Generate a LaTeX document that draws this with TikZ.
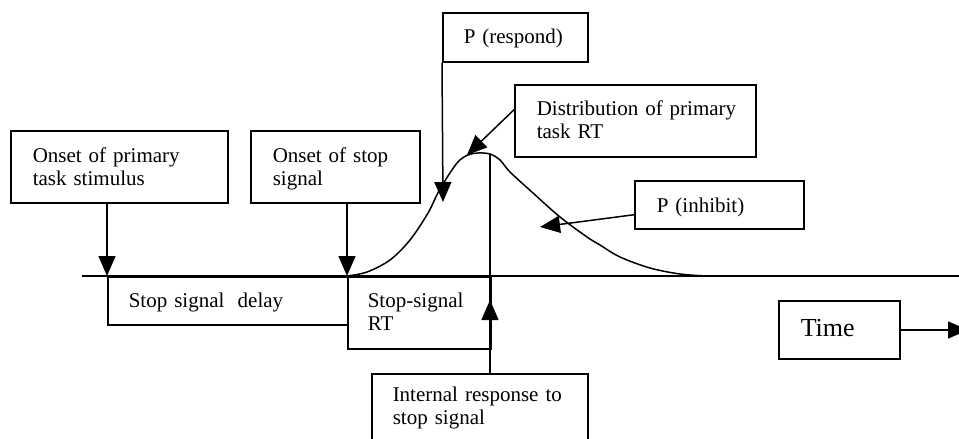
\documentclass[tikz,border=0pt]{standalone}
\usepackage{fontspec}
\setmainfont{Liberation Serif}
\usetikzlibrary{arrows.meta}
\begin{document}
\begin{tikzpicture}[x=1pt,y=-1pt,line width=1.5pt,
  box/.style={draw,anchor=north west,inner sep=0pt},
  lbl/.style={anchor=base west,inner sep=0pt,align=left,text width=300pt,font=\fontsize{21}{23.5}\selectfont},
  arr/.style={-{Triangle[length=20pt,width=17pt]}}]
\useasboundingbox (0,0) rectangle (959,439);
\clip (0,0) rectangle (959,439);
% boxes
\node[box,minimum width=217pt,minimum height=72pt] (b1) at (10,130) {};
\node[box,minimum width=169pt,minimum height=72pt] (b2) at (250,130) {};
\node[box,minimum width=145pt,minimum height=49pt] (pr) at (442,12) {};
\node[box,minimum width=241pt,minimum height=72pt] (ds) at (514,84) {};
\node[box,minimum width=169pt,minimum height=48pt] (pi) at (634,180) {};
\node[box,minimum width=121pt,minimum height=58pt] (tm) at (778,300) {};
\node[box,minimum width=240pt,minimum height=48pt] (dl) at (107,276) {};
\node[box,minimum width=143pt,minimum height=72pt] (rt) at (347,276) {};
\node[box,minimum width=216pt,minimum height=80pt] (ib) at (371,373) {};
% texts
\node[lbl] (tb1) at (32,162) {Onset of primary\\task stimulus};
\node[lbl] (tb2) at (272,162) {Onset of stop\\signal};
\node[lbl] (tpr) at (463,43) {P (respond)};
\node[lbl] (tds) at (536,115) {Distribution of primary\\task RT};
\node[lbl] (tpi) at (656,212) {P (inhibit)};
\node[lbl,font=\fontsize{26}{30}\selectfont] (ttm) at (800,336) {Time};
\node[lbl] (tdl) at (128,307) {Stop signal\hspace{0.3em} delay};
\node[lbl] (trt) at (367,307) {Stop-signal\\RT};
\node[lbl] (tib) at (392,401) {Internal response to\\stop signal};
% axis
\coordinate (axL) at (82,276);
\coordinate (axR) at (959,276);
\draw (axL) -- (axR);
% distribution curve
\draw plot[smooth,tension=0.55] coordinates {(347,276) (367,272) (390,260) (410,240) (428,213) (440,189) (457,163) (468,155) (478,153) (490,154) (500,160) (510,172) (533,193) (560,217) (587,237) (600,245) (620,257) (650,268) (680,274) (707,276)};
% arrows
\coordinate (t1) at (107,276);
\coordinate (t2) at (347,276);
\coordinate (t3) at (443,202);
\coordinate (t4) at (467,155);
\coordinate (t5) at (540,227);
\coordinate (t6) at (968,330);
\coordinate (pk) at (490,154);
\coordinate (t7) at (490,300);
\draw[arr] (b1.south -| t1) -- (t1);
\draw[arr] (b2.south -| t2) -- (t2);
\draw[arr] (pr.south west) -- (t3);
\draw[arr] ([yshift=11pt]ds.west) -- (t4);
\draw[arr] ([yshift=-10pt]pi.west) -- (t5);
\draw[arr] (tm.east |- t6) -- (t6);
\draw (pk) -- (ib.north -| pk);
\draw[arr] (ib.north -| pk) -- (t7);
\end{tikzpicture}
\end{document}
